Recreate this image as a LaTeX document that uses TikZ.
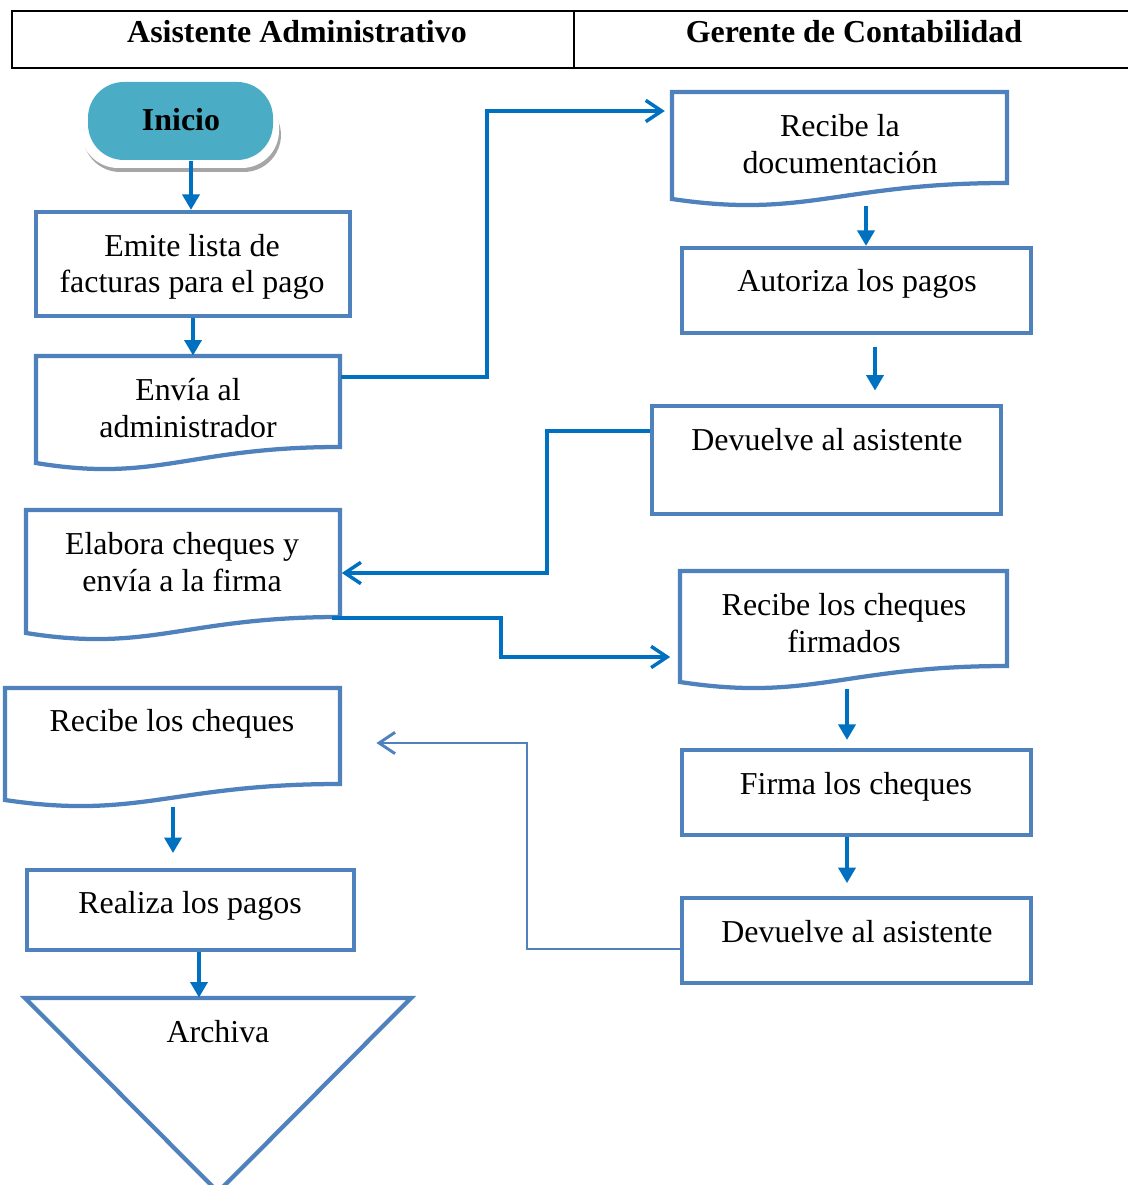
\documentclass[tikz,border=0pt]{standalone}
\usepackage{fontspec}
\setmainfont{Liberation Serif}
\usetikzlibrary{arrows.meta,fit}
\definecolor{boxblue}{HTML}{4F81BD}
\definecolor{linkblue}{HTML}{0070C0}
\definecolor{startteal}{HTML}{4BACC6}

% Document shape: top edge y0, right bottom yR, wavy bottom edge
\newcommand{\docpath}[4]{%
  \draw[boxline] (#1,#2) -- (#3,#2) -- (#3,#4)
    .. controls ({#1+0.5*(#3-#1)},#4) and ({#1+0.4*(#3-#1)},{#4+36}) ..
    (#1,{#4+16}) -- cycle;}

\begin{document}
\begin{tikzpicture}[x=0.376pt,y=-0.376pt,
  boxline/.style={draw=boxblue,line width=1.6pt,line join=miter},
  procbox/.style={boxline,fit={#1},inner sep=0pt},
  area/.style={fit={#1},inner sep=0pt},
  hdrcell/.style={draw=black,line width=0.8pt,fit={#1},inner sep=0pt},
  txt/.style={font=\fontsize{12}{13.7}\selectfont,align=center,inner sep=0pt},
  hdrtxt/.style={font=\fontsize{12}{13.7}\selectfont\bfseries,inner sep=0pt},
  flow/.style={draw=linkblue,line width=1.3pt,-{Triangle[length=5.8pt,width=6.4pt]}},
  link/.style={draw=linkblue,line width=1.3pt,
    -{Straight Barb[length=6pt,width=8pt,line width=1.3pt]}},
  backlink/.style={draw=boxblue,line width=1.1pt,
    -{Straight Barb[length=6pt,width=8pt,line width=1.1pt]}}]

\useasboundingbox (0,0) rectangle (1127,1185);

% Swimlane header
\node[hdrcell={(12,11) (574,68)}] (hdrA) {};
\node[hdrcell={(574,11) (1140,68)}] (hdrB) {};
\node[hdrtxt] (hdrAt) at (297,32) {Asistente Administrativo};
\node[hdrtxt] (hdrBt) at (854,32) {Gerente de Contabilidad};

% Start terminal with its raised backing
\fill[gray!70,rounded corners=14pt] (83,98) rectangle (281,172);
\fill[white,rounded corners=14pt] (81,90) rectangle (279,168);
\node[fill=startteal,rounded corners=13.5pt,fit={(88,82) (273,160)},inner sep=0pt] (inicio) {};
\node[hdrtxt] (inicioT) at (181,120) {Inicio};

% Left lane
\node[procbox={(36,212) (350,316)}] (emite) {};
\node[txt] (emiteT) at (192,267) {Emite lista de\\facturas para el pago};

\docpath{36}{356}{340}{447}
\node[area={(36,356) (340,469)}] (envia) {};
\node[txt] (enviaT) at (188,408) {Envía al\\administrador};

\docpath{26}{510}{340}{617}
\node[area={(26,510) (340,639)}] (elabora) {};
\node[txt] (elaboraT) at (182,562) {Elabora cheques y\\envía a la firma};

\docpath{5}{688}{340}{784}
\node[area={(5,688) (340,806)}] (recchq) {};
\node[txt] (recchqT) at (172,724) {Recibe los cheques};

\node[procbox={(27,870) (354,950)}] (realiza) {};
\node[txt] (realizaT) at (190,906) {Realiza los pagos};

\draw[boxline] (25,998) -- (411,998) -- (218,1192) -- cycle;
\node[area={(25,998) (411,1185)}] (archiva) {};
\node[txt] (archivaT) at (218,1032) {Archiva};

% Right lane
\docpath{672}{92}{1007}{183}
\node[area={(672,92) (1007,205)}] (recdoc) {};
\node[txt] (recdocT) at (840,144) {Recibe la\\documentación};

\node[procbox={(682,248) (1031,333)}] (autoriza) {};
\node[txt] (autorizaT) at (857,284) {Autoriza los pagos};

\node[procbox={(652,406) (1001,514)}] (dev1) {};
\node[txt] (dev1T) at (827,440) {Devuelve al asistente};

\docpath{680}{571}{1007}{666}
\node[area={(680,571) (1007,688)}] (recfirm) {};
\node[txt] (recfirmT) at (844,623) {Recibe los cheques\\firmados};

\node[procbox={(682,750) (1031,835)}] (firma) {};
\node[txt] (firmaT) at (856,787) {Firma los cheques};

\node[procbox={(682,898) (1031,983)}] (dev2) {};
\node[txt] (dev2T) at (857,932) {Devuelve al asistente};

% Connectors
\draw[flow] (191,0 |- inicio.south) -- (191,0 |- emite.north);
\draw[flow] (emite.south) -- (emite.south |- envia.north);
\draw[link,shorten >=2.5pt] (envia.east |- 0,377) -| (487,111) -- (recdoc.west |- 0,111);
\draw[flow] (866,0 |- recdoc.south) -- (866,0 |- autoriza.north);
\draw[flow,shorten <=4.5pt,shorten >=5pt] (875,0 |- autoriza.south) -- (875,0 |- dev1.north);
\draw[link,shorten >=0.5pt] (dev1.west |- 0,431) -| (547,573) -- (elabora.east |- 0,573);
\draw[link,shorten >=3.5pt] (332,618) -| (501,657) -- (recfirm.west |- 0,657);
\draw[flow,shorten >=3pt] (847,0 |- recfirm.south) -- (847,0 |- firma.north);
\draw[flow,shorten >=4.8pt] (847,0 |- firma.south) -- (847,0 |- dev2.north);
\draw[backlink,shorten >=13.5pt] (dev2.west |- 0,949) -| (527,743) -- (recchq.east |- 0,743);
\draw[flow,shorten >=5.6pt] (173,0 |- recchq.south) -- (173,0 |- realiza.north);
\draw[flow] (199,0 |- realiza.south) -- (199,0 |- archiva.north);

\end{tikzpicture}
\end{document}
